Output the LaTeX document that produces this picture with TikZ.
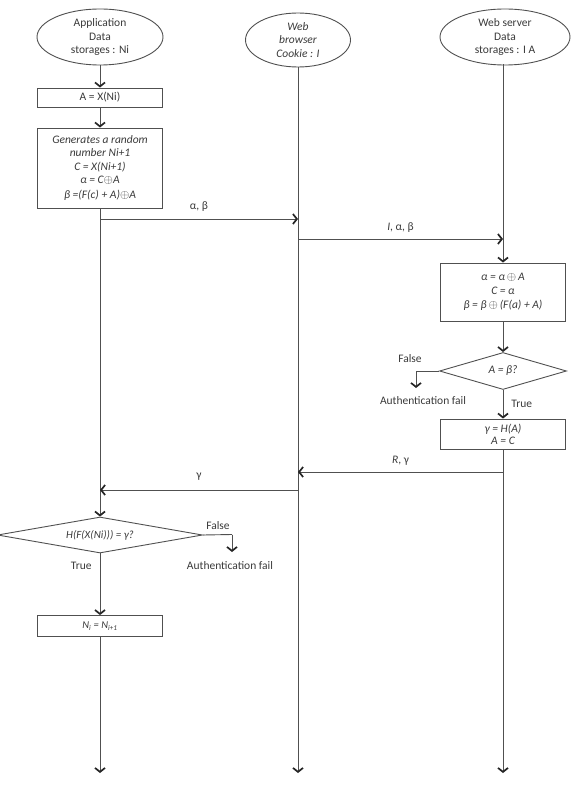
\documentclass[tikz,border=0pt]{standalone}
\usepackage{fontspec}
\setmainfont{Carlito}
\usetikzlibrary{arrows.meta,shapes.geometric}
\definecolor{ln}{HTML}{505050}
\definecolor{tx}{HTML}{3A3A3A}
\newcommand{\xo}{{\large$\oplus$}}
\begin{document}
\begin{tikzpicture}[x=1pt,y={(0pt,-1pt)},
  font=\fontsize{11.5}{13.5}\selectfont, text=tx,
  line/.style={draw=ln, line width=0.9pt},
  arr/.style={line, -{Straight Barb[length=4pt,width=10pt,line width=1.7pt,color=black!85]}},
  ell/.style={ellipse, line, inner sep=0pt, align=center},
  box/.style={rectangle, line, inner sep=0pt, align=center, minimum width=125pt},
  dia/.style={diamond, line, inner sep=0pt, align=center},
  lbl/.style={inner sep=0pt}
]
\useasboundingbox (0,0) rectangle (573,810);

% heads
\node[ell, minimum width=126pt, minimum height=56pt] (app) at (100,37) {Application\\Data\\storages : Ni};
\node[ell, minimum width=105pt, minimum height=54pt, font=\fontsize{11.5}{13.5}\selectfont\itshape] (web) at (298,40) {Web\\browser\\Cookie : I};
\node[ell, minimum width=130pt, minimum height=56pt] (srv) at (505,37) {Web server\\Data\\storages : I A};

% application column
\node[box, minimum height=80pt, font=\fontsize{11.5}{13.5}\selectfont\itshape] (b2) at (100,168) {Generates a random\\number Ni+1\\C = X(Ni+1)\\α = C\xo A\\[1pt]β =(F(c) + A)\xo A};
\node[box, minimum height=19pt] (b1) at (100,97.5) {A = X(Ni)};
\node[dia, minimum width=205pt, minimum height=36pt, shape aspect=5.7, font=\fontsize{11}{13}\selectfont\itshape] (d2) at (100,535) {H(F(X(Ni))) = γ?};
\node[box, minimum height=21pt, font=\fontsize{10.5}{12}\selectfont\itshape] (b5) at (100,626) {N\textsubscript{i} = N\textsubscript{i+1}};

% server column
\node[box, minimum height=58pt, font=\fontsize{11.5}{13.5}\selectfont\itshape] (b3) at (503,292) {α = α\,\xo\,A\\C = α\\[1pt]β = β\,\xo\,(F(a) + A)};
\node[dia, minimum width=127pt, minimum height=37pt, shape aspect=3.4, font=\fontsize{11.5}{13.5}\selectfont\itshape] (d1) at (503,371) {A = β?};
\node[box, minimum height=30pt, font=\fontsize{11.5}{12}\selectfont\itshape] (b4) at (503,434) {γ = H(A)\\A = C};

% end points and message coordinates
\coordinate (e1) at (100,773);
\coordinate (e2) at (298,773);
\coordinate (e3) at (503,773);
\coordinate (m1s) at (100,219);
\coordinate (m1e) at (298,219);
\coordinate (m2s) at (298,239);
\coordinate (m2e) at (503,239);
\coordinate (m3s) at (503,472);
\coordinate (m3e) at (298,472);
\coordinate (m4s) at (298,490);
\coordinate (m4e) at (100,490);
\coordinate (s0) at (503,64.5);

% lifelines
\draw[arr] (app) -- (b1);
\draw[arr] (b1) -- (b2);
\draw[arr] (b2) -- (d2);
\draw[arr] (d2) -- node[pos=0.2, left=8pt, lbl] {True} (b5);
\draw[arr] (b5) -- (e1);

\draw[arr] (web) -- (e2);

\draw[arr] (s0) -- (b3);
\draw[arr] (b3) -- (d1);
\draw[arr] (d1) -- node[pos=0.5, right=8pt, lbl] {True} (b4);
\draw[arr] (b4) -- (e3);

% messages
\draw[arr] (m1s) -- node[midway, above=7pt, lbl] {α, β} (m1e);
\draw[arr] (m2s) -- node[midway, above=6pt, lbl] {\textit{I}, α, β} (m2e);
\draw[arr] (m3s) -- node[midway, above=6pt, lbl] {\textit{R}, γ} (m3e);
\draw[arr] (m4s) -- node[midway, above=9pt, lbl] {γ} (m4e);

% false branches
\coordinate (f1) at (416,371);
\coordinate (f1e) at (416,388);
\draw[line] (d1.west) -- (f1);
\draw[arr] (f1) -- (f1e);
\node[lbl] (fl1) at (410,359) {False};
\node[lbl] (af1) at (423,401) {Authentication fail};

\coordinate (f2) at (232,534.5);
\coordinate (f2e) at (232,552);
\draw[line] (d2.east) -- (f2);
\draw[arr] (f2) -- (f2e);
\node[lbl] (fl2) at (218,526) {False};
\node[lbl] (af2) at (230,566) {Authentication fail};
\end{tikzpicture}
\end{document}
